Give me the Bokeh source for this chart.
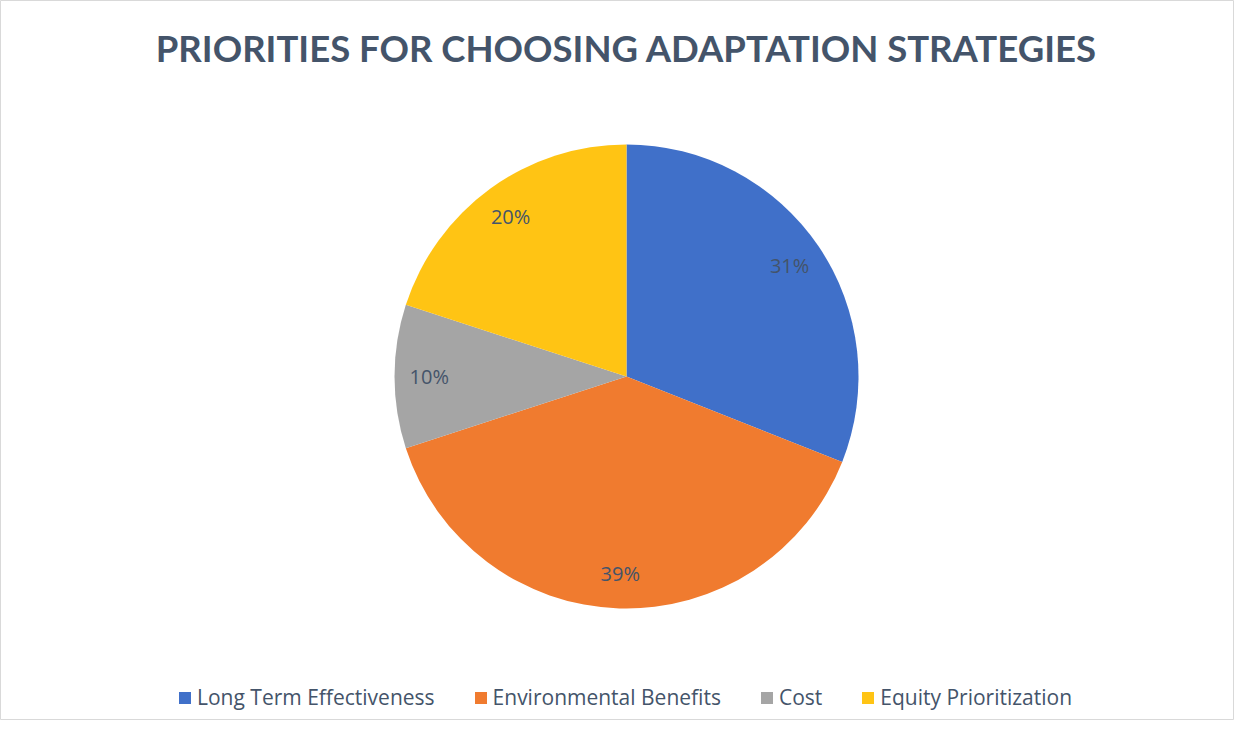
import numpy as np
from bokeh.plotting import figure
from bokeh.models import ColumnDataSource, Legend, LegendItem, Range1d
from bokeh.core.properties import value
from bokeh.embed import file_html
from bokeh.resources import INLINE

title_text = "PRIORITIES FOR CHOOSING ADAPTATION STRATEGIES"
categories = ["Long Term Effectiveness", "Environmental Benefits", "Cost", "Equity Prioritization"]
shares = [31, 39, 10, 20]
colors = ["#4070C9", "#F07B2F", "#A5A5A5", "#FFC414"]

W, H = 1234, 720
TITLE_FONT = "Lato"
FONT = "Open Sans"
TEXT_COLOR = "#44546A"

cx, cy, R = 626, H - 376, 232

vals = np.array(shares, dtype=float)
frac = vals / vals.sum()
cum_end = np.cumsum(frac)
cum_start = cum_end - frac
start = np.pi / 2 - cum_start * 2 * np.pi
end = np.pi / 2 - cum_end * 2 * np.pi
mid = (start + end) / 2

src = ColumnDataSource(dict(
    cat=categories, color=colors, start=start, end=end,
    lx=cx + 0.85 * R * np.cos(mid), ly=cy + 0.85 * R * np.sin(mid),
    label=[f"{int(round(v))}%" for v in shares],
))

p = figure(width=W, height=H, output_backend="svg", toolbar_location=None,
           x_range=Range1d(0, W), y_range=Range1d(0, H), min_border=0,
           match_aspect=False)
p.axis.visible = False
p.grid.visible = False
p.outline_line_color = "#D9D9D9"
p.background_fill_color = "white"
p.border_fill_color = "white"

r = p.wedge(x=cx, y=cy, radius=R, start_angle="start", end_angle="end",
            direction="clock", fill_color="color", line_color=None, source=src)

p.text(x="lx", y="ly", text="label", source=src, text_align="center",
       text_baseline="middle", text_font=value(FONT), text_font_size="20px",
       text_color=TEXT_COLOR)

p.text(x=[626], y=[H - 47], text=[title_text], text_align="center",
       text_baseline="middle", text_font=value(TITLE_FONT), text_font_size="36.5px",
       text_font_style="bold", text_color=TEXT_COLOR)

items = [LegendItem(label=c, renderers=[r], index=i) for i, c in enumerate(categories)]
legend = Legend(items=items, orientation="horizontal", location=(177, 9),
                glyph_width=15, glyph_height=15, label_standoff=5, spacing=38,
                padding=0, margin=0, border_line_color=None,
                background_fill_alpha=0, label_text_font=FONT,
                label_text_font_size="21px", label_text_color=TEXT_COLOR,
                label_height=21)
p.add_layout(legend, "center")

open("out.html", "w").write(file_html(p, INLINE))
